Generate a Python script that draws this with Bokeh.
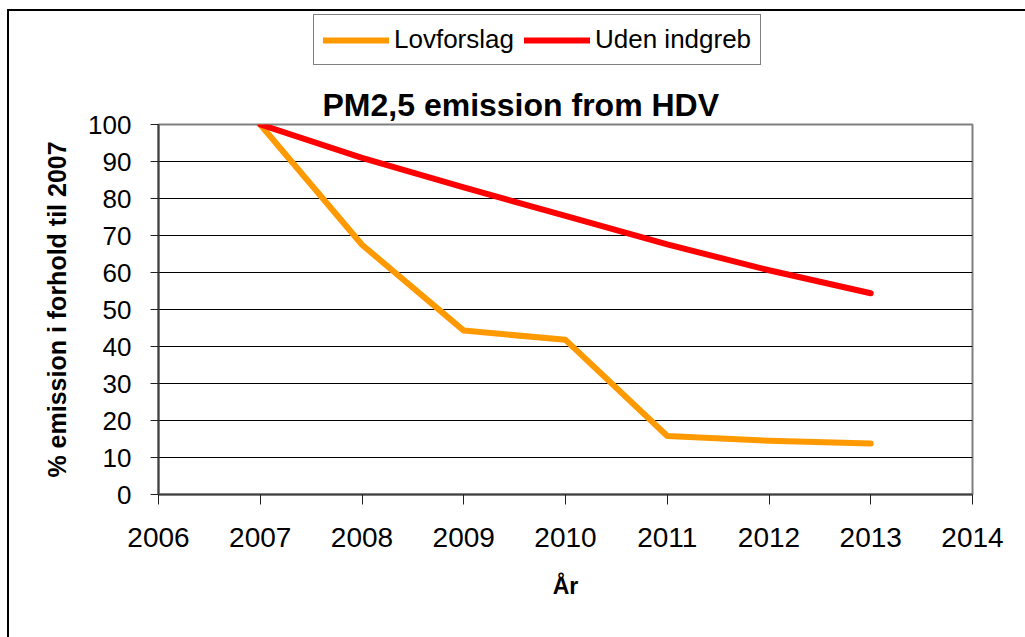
from bokeh.plotting import figure
from bokeh.layouts import column
from bokeh.models import Legend, LegendItem, Title, FixedTicker, Range1d
from bokeh.embed import file_html
from bokeh.resources import INLINE

# ---- data ----
years = [2007, 2008, 2009, 2010, 2011, 2012, 2013]
lovforslag = [100, 67.5, 44.3, 41.8, 15.8, 14.5, 13.8]
uden_indgreb = [100, 91.0, 83.0, 75.3, 67.6, 60.6, 54.4]
series_names = ["Lovforslag", "Uden indgreb"]
series_colors = ["#FF9900", "#FF0000"]
x_ticks = [2006, 2007, 2008, 2009, 2010, 2011, 2012, 2013, 2014]
y_ticks = [0, 10, 20, 30, 40, 50, 60, 70, 80, 90, 100]
title_text = "PM2,5 emission from HDV"
x_label = "År"
y_label = "% emission i forhold til 2007"

FONT = "Liberation Sans"
W = 1016
TOP_H = 60
MAIN_H = 566

# ---- legend strip (own small figure, frame aligned with main chart) ----
top = figure(width=W, height=TOP_H, output_backend="svg", toolbar_location=None,
             x_axis_type=None, y_axis_type=None, min_border=0,
             x_range=Range1d(0, 1), y_range=Range1d(0, 1))
top.outline_line_color = None
top.grid.visible = False
top.background_fill_color = "white"
top.border_fill_color = "white"
# same series, drawn outside this strip's visible range; used only for the legend keys
l1 = top.line(years, lovforslag, line_color=series_colors[0], line_width=6, line_cap="round")
l2 = top.line(years, uden_indgreb, line_color=series_colors[1], line_width=6, line_cap="round")
legend = Legend(items=[LegendItem(label=series_names[0], renderers=[l1]),
                       LegendItem(label=series_names[1], renderers=[l2])],
                orientation="horizontal", location=(155, 6),
                label_text_font=FONT, label_text_font_size="26px",
                label_text_color="black", glyph_width=66, glyph_height=20,
                label_standoff=5, spacing=10, padding=9, margin=0,
                border_line_color="black", border_line_width=1,
                background_fill_color="white", background_fill_alpha=1.0)
top.add_layout(legend, "center")

# ---- main chart ----
p = figure(width=W, height=MAIN_H, output_backend="svg", toolbar_location=None,
           x_range=Range1d(2006, 2014), y_range=Range1d(0, 100),
           min_border_left=149, min_border_right=53, min_border_top=53,
           min_border_bottom=143)
p.background_fill_color = "white"
p.border_fill_color = "white"
p.outline_line_color = "#808080"
p.outline_line_width = 2

p.xgrid.visible = False
p.ygrid.ticker = FixedTicker(ticks=y_ticks)
p.ygrid.grid_line_color = "black"
p.ygrid.grid_line_width = 1

p.xaxis.ticker = FixedTicker(ticks=x_ticks)
p.yaxis.ticker = FixedTicker(ticks=y_ticks)
for ax in (p.xaxis[0], p.yaxis[0]):
    ax.axis_line_color = "#404040"
    ax.axis_line_width = 2
    ax.major_tick_line_color = "#202020"
    ax.major_tick_line_width = 1
    ax.major_tick_in = 0
    ax.minor_tick_line_color = None
    ax.major_label_text_font = FONT
    ax.major_label_text_color = "black"
    ax.axis_label_text_font = FONT
    ax.axis_label_text_font_style = "bold"
    ax.axis_label_text_color = "black"

p.xaxis.major_tick_out = 10
p.xaxis.major_label_standoff = 23
p.xaxis.major_label_text_font_size = "28px"
p.xaxis.axis_label = x_label
p.xaxis.axis_label_text_font_size = "23px"
p.xaxis.axis_label_standoff = 23

p.yaxis.major_tick_out = 8
p.yaxis.major_label_standoff = 19
p.yaxis.major_label_text_font_size = "26px"
p.yaxis.axis_label = y_label
p.yaxis.axis_label_text_font_size = "25px"
p.yaxis.axis_label_standoff = 14

p.line(years, lovforslag, line_color=series_colors[0], line_width=6,
       line_cap="round", line_join="round")
p.line(years, uden_indgreb, line_color=series_colors[1], line_width=6,
       line_cap="round", line_join="round")

p.add_layout(Title(text=title_text, align="left", offset=164,
                   text_font=FONT, text_font_size="32px",
                   text_font_style="bold", text_color="black", standoff=4), "above")

layout = column(top, p, spacing=0, margin=(9, 0, 0, 7))
layout.styles = {"border-top": "2px solid black", "border-left": "2px solid black"}

open("out.html", "w").write(file_html(layout, INLINE))
